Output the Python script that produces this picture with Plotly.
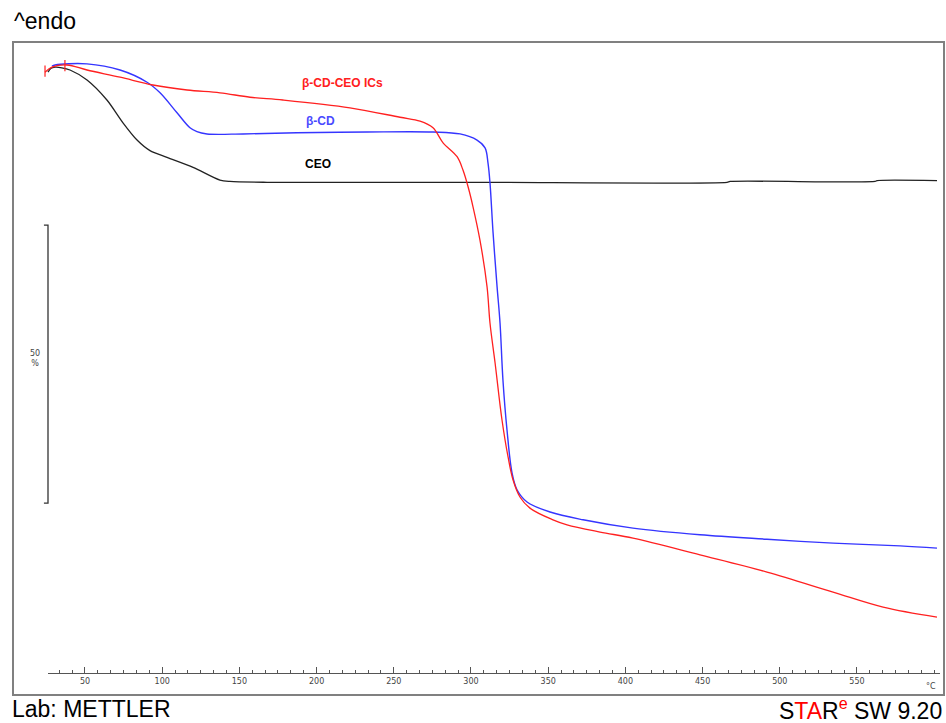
import plotly.graph_objects as go

# --- TGA data: temperature (°C) vs. remaining mass (%) ---
ceo_T = [26.0, 28.0, 30.6, 35.0, 40.3, 51.3, 64.2, 74.6, 83.7, 92.1, 103.1,
         120.0, 137.4, 143.9, 167.9, 300.0, 465.8, 467.8, 561.7, 563.0, 601.8]
ceo_pct = [98.7, 99.4, 99.6, 99.5, 99.1, 97.3, 93.7, 89.6, 86.5, 84.6, 83.4,
           81.6, 79.3, 79.05, 78.9, 78.9, 78.9, 79.05, 79.05, 79.2, 79.2]

bcd_T = [28.6, 30.6, 51.3, 72.7, 90.2, 98.6, 109.6, 118.0, 122.5, 129.0, 152.3,
         187.3, 232.7, 275.4, 292.9, 303.9, 309.1, 311.0, 312.3, 314.3, 316.9,
         318.8, 320.7, 323.3, 326.6, 329.8, 336.3, 351.2, 372.6, 404.9, 448.3,
         491.7, 534.5, 577.9, 601.8]
bcd_pct = [99.8, 100.0, 100.2, 99.1, 96.9, 95.0, 91.4, 88.7, 88.0, 87.6, 87.6,
           87.8, 87.95, 87.95, 87.6, 86.5, 85.1, 82.4, 78.8, 69.8, 60.1,
           53.6, 43.3, 34.4, 26.6, 23.6, 21.4, 19.6, 18.2, 16.7, 15.5,
           14.7, 14.0, 13.5, 13.1]

ic_T = [24.1, 28.6, 38.3, 51.3, 72.7, 94.0, 116.1, 137.4, 156.9, 178.2, 221.6,
        254.0, 267.0, 275.4, 281.9, 291.0, 294.8, 298.1, 301.3, 305.8, 310.4,
        312.3, 315.6, 320.1, 324.0, 327.2, 331.7, 338.2, 353.1, 362.2, 383.6,
        404.9, 448.3, 491.7, 534.5, 566.9, 601.8]
ic_pct = [98.7, 99.6, 100.0, 99.1, 97.8, 96.4, 95.5, 95.0, 94.2, 93.7, 92.3,
          90.6, 89.9, 88.7, 86.0, 83.5, 81.1, 78.1, 74.5, 68.5, 60.1,
          53.6, 46.4, 36.1, 29.5, 25.4, 22.3, 20.3, 18.2, 17.3, 16.0,
          14.9, 11.9, 8.8, 5.2, 2.5, 0.7]

# start/end evaluation markers on the IC curve
ic_mark_T = [24.1, 37.0]
ic_mark_pct = [98.9, 99.9]

# 50 % scale bar (mass axis)
bar_T = [23.4, 26.04, 26.04, 23.4]
bar_pct = [71.2, 71.2, 21.2, 21.2]

tick_vals = [50, 100, 150, 200, 250, 300, 350, 400, 450, 500, 550]

RED = "#ff2020"
BLUE = "#3535ff"
BLACK = "#222222"

fig = go.Figure()

fig.add_trace(go.Scatter(x=ceo_T, y=ceo_pct, mode="lines", line_shape="spline",
                         line=dict(color=BLACK, width=1.3, smoothing=0.8),
                         hoverinfo="skip"))
fig.add_trace(go.Scatter(x=bcd_T, y=bcd_pct, mode="lines", line_shape="spline",
                         line=dict(color=BLUE, width=1.4), hoverinfo="skip"))
fig.add_trace(go.Scatter(x=ic_T, y=ic_pct, mode="lines", line_shape="spline",
                         line=dict(color=RED, width=1.3), hoverinfo="skip"))
fig.add_trace(go.Scatter(x=ic_mark_T, y=ic_mark_pct, mode="markers",
                         marker=dict(symbol="line-ns", size=8,
                                     line=dict(color=RED, width=1.2)),
                         hoverinfo="skip"))
fig.add_trace(go.Scatter(x=bar_T, y=bar_pct, mode="lines",
                         line=dict(color="#333333", width=1.3), hoverinfo="skip"))

# temperature axis subplot (only the axis is shown)
fig.add_trace(go.Scatter(x=[300], y=[0], mode="markers", xaxis="x2", yaxis="y2",
                         marker=dict(opacity=0), hoverinfo="skip"))

fig.update_layout(
    width=946, height=723,
    margin=dict(l=0, r=0, t=0, b=0),
    paper_bgcolor="white", plot_bgcolor="rgba(0,0,0,0)",
    showlegend=False,
    xaxis=dict(domain=[0, 1], range=[-5.05, 607.64], visible=False, fixedrange=True),
    yaxis=dict(domain=[0, 1], range=[-18.35, 111.69], visible=False, fixedrange=True),
    xaxis2=dict(domain=[48 / 946, 940 / 946], range=[26.04, 603.76], anchor="y2",
                showline=True, linecolor="#555555", linewidth=1.2,
                showgrid=False, zeroline=False,
                tickmode="array", tickvals=tick_vals,
                ticks="inside", ticklen=6, tickwidth=1, tickcolor="#555555",
                minor=dict(dtick=50 / 6, tick0=0, ticks="inside", ticklen=3,
                           tickwidth=1, tickcolor="#555555"),
                tickfont=dict(family="DejaVu Sans", size=8, color="#444444")),
    yaxis2=dict(domain=[1 - 673 / 723, 1 - 673 / 723 + 0.02], visible=False,
                anchor="x2", range=[0, 1]),
    shapes=[dict(type="rect", xref="paper", yref="paper",
                 x0=13 / 946, x1=944 / 946, y0=1 - 695 / 723, y1=1 - 42 / 723,
                 line=dict(color="#808080", width=2), layer="above")],
)

annotations = [
    dict(text="^endo", x=12 / 946, y=1 - 21 / 723, xanchor="left", yanchor="middle",
         font=dict(family="Liberation Sans", size=23, color="black")),
    dict(text="Lab: METTLER", x=10 / 946, y=1 - 709 / 723, xanchor="left", yanchor="middle",
         font=dict(family="Liberation Sans", size=23, color="black")),
    dict(text="S<span style='color:#ff0000'>TA</span>R"
              "<sup><span style='color:#ff0000'>e</span></sup> SW 9.20",
         x=944 / 946, y=1 - 709 / 723, xanchor="right", yanchor="middle",
         font=dict(family="Liberation Sans", size=23, color="black")),
    dict(text="°C", x=931 / 946, y=1 - 686 / 723, xanchor="center", yanchor="middle",
         font=dict(family="DejaVu Sans", size=8, color="#444444")),
    dict(text="50<br>%", x=35 / 946, y=1 - 358 / 723, xanchor="center", yanchor="middle",
         font=dict(family="DejaVu Sans", size=8, color="#444444")),
    dict(text="<b>β-CD-CEO ICs</b>", x=189.3, y=96.76, xref="x", yref="y",
         xanchor="left", yanchor="middle",
         font=dict(family="Liberation Sans", size=12, color=RED)),
    dict(text="<b>β-CD</b>", x=191.8, y=89.93, xref="x", yref="y",
         xanchor="left", yanchor="middle",
         font=dict(family="Liberation Sans", size=12, color="#4a4aff")),
    dict(text="<b>CEO</b>", x=191.2, y=82.19, xref="x", yref="y",
         xanchor="left", yanchor="middle",
         font=dict(family="Liberation Sans", size=12, color="black")),
]
for a in annotations:
    a.setdefault("xref", "paper")
    a.setdefault("yref", "paper")
    a["showarrow"] = False
fig.update_layout(annotations=annotations)

fig.write_html("out.html")
